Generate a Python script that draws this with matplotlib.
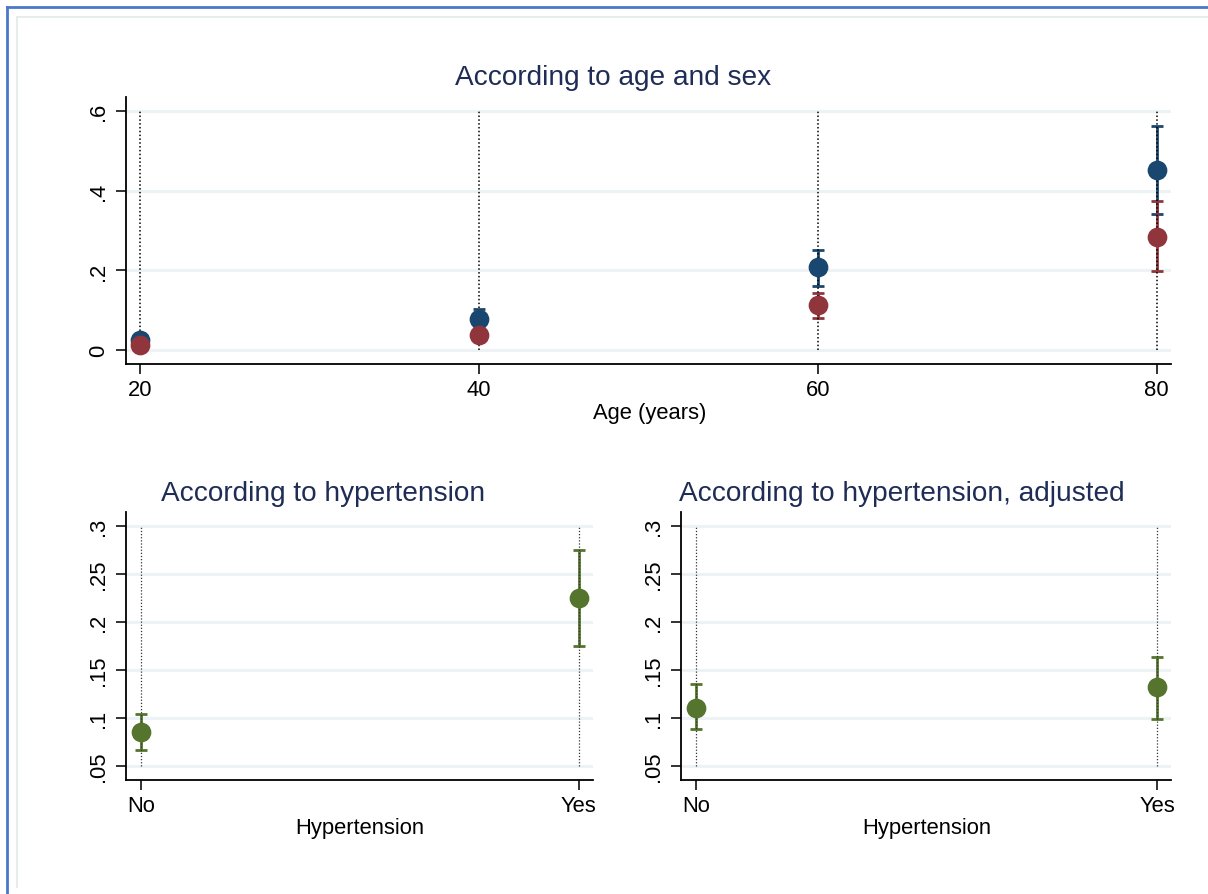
import matplotlib

matplotlib.use("Agg")

import matplotlib.pyplot as plt
from matplotlib.lines import Line2D

plt.rcParams.update(
    {
        "font.family": ["Liberation Sans", "DejaVu Sans"],
        "font.size": 15.8,
        "axes.linewidth": 1.3,
    }
)

# ---- data ----
ages = [20, 40, 60, 80]
male_est = [0.026, 0.077, 0.208, 0.452]
male_lo = [0.019, 0.055, 0.161, 0.342]
male_hi = [0.034, 0.102, 0.252, 0.564]
female_est = [0.012, 0.038, 0.114, 0.284]
female_lo = [0.006, 0.028, 0.081, 0.199]
female_hi = [0.018, 0.050, 0.144, 0.374]

htn_cats = ["No", "Yes"]
htn_est = [0.085, 0.225]
htn_lo = [0.066, 0.175]
htn_hi = [0.104, 0.275]
adj_est = [0.110, 0.132]
adj_lo = [0.088, 0.099]
adj_hi = [0.135, 0.163]

top_yticks = [0, 0.2, 0.4, 0.6]
top_ylabels = ["0", ".2", ".4", ".6"]
bot_yticks = [0.05, 0.1, 0.15, 0.2, 0.25, 0.3]
bot_ylabels = [".05", ".1", ".15", ".2", ".25", ".3"]

NAVY = "#1a476f"
MAROON = "#90353b"
GREEN = "#55752f"
TITLE = "#1f2d56"
GRID = "#edf3f5"

W, H = 1208, 895
fig = plt.figure(figsize=(W / 100, H / 100), dpi=100)
fig.patch.set_facecolor("white")


def box(l, t, r, b):
    return [l / W, 1 - b / H, (r - l) / W, (b - t) / H]


def fx(x):
    return x / W


def fy(y):
    return 1 - y / H


def style(ax, yticks, ylabels):
    ax.set_yticks(yticks)
    ax.set_yticklabels(ylabels, rotation=90, va="center")
    for y in yticks:
        ax.axhline(y, color=GRID, lw=2.2, zorder=0)
    ax.spines["top"].set_visible(False)
    ax.spines["right"].set_visible(False)
    ax.tick_params(length=7, width=1.3, color="#222222", pad=4)
    ax.tick_params(axis="y", pad=5)


def series(ax, xs, est, lo, hi, color):
    yerr = [[e - l for e, l in zip(est, lo)], [h - e for e, h in zip(est, hi)]]
    ax.errorbar(xs, est, yerr=yerr, fmt="none", ecolor=color, elinewidth=2,
                capsize=4, capthick=2, zorder=2)
    ax.plot(xs, est, "o", color=color, markersize=13.2, zorder=4)


# ---- top panel ----
ax1 = fig.add_axes(box(125.7, 98, 1170.7, 365))
ax1.set_xlim(19.155, 80.83)
ax1.set_ylim(-0.035, 0.636)
style(ax1, top_yticks, top_ylabels)
ax1.set_xticks(ages)
ax1.vlines(ages, 0, 0.6, colors="black", linestyles=(0, (1, 1.5)), lw=1.1, zorder=3)
series(ax1, ages, male_est, male_lo, male_hi, NAVY)
series(ax1, ages, female_est, female_lo, female_hi, MAROON)

# ---- bottom panels ----
ax2 = fig.add_axes(box(126, 513.3, 592.7, 781))
ax2.set_xlim(-0.0336, 1.032)
ax3 = fig.add_axes(box(681, 513.3, 1170.7, 781))
ax3.set_xlim(-0.0325, 1.0297)
for ax, est, lo, hi in [(ax2, htn_est, htn_lo, htn_hi), (ax3, adj_est, adj_lo, adj_hi)]:
    ax.set_ylim(0.035, 0.3146)
    style(ax, bot_yticks, bot_ylabels)
    xs = list(range(len(htn_cats)))
    ax.set_xticks(xs)
    ax.set_xticklabels(htn_cats)
    ax.vlines(xs, 0.05, 0.3, colors="#333333", linestyles=(0, (1, 1.5)), lw=0.9, zorder=3)
    series(ax, xs, est, lo, hi, GREEN)

# ---- titles and axis labels ----
fig.text(fx(613), fy(78), "According to age and sex", ha="center", va="center",
         fontsize=20.2, color=TITLE)
fig.text(fx(323), fy(494), "According to hypertension", ha="center", va="center",
         fontsize=20.2, color=TITLE)
fig.text(fx(902), fy(494), "According to hypertension, adjusted", ha="center",
         va="center", fontsize=20.2, color=TITLE)
fig.text(fx(650), fy(414), "Age (years)", ha="center", va="center")
fig.text(fx(360), fy(829), "Hypertension", ha="center", va="center")
fig.text(fx(927), fy(829), "Hypertension", ha="center", va="center")

# ---- frame lines ----
fig.add_artist(Line2D([fx(17), fx(W)], [fy(18), fy(18)], color="#e3e9ea", lw=1.2))
fig.add_artist(Line2D([fx(17), fx(17)], [fy(18), fy(888)], color="#e3e9ea", lw=1.2))
fig.add_artist(Line2D([fx(6.5), fx(W)], [fy(7.5), fy(7.5)], color="#4a78cc", lw=2))
fig.add_artist(Line2D([fx(6.5), fx(6.5)], [fy(7.5), fy(H)], color="#4a78cc", lw=2))

fig.savefig("out.png", dpi=100, facecolor="white")
